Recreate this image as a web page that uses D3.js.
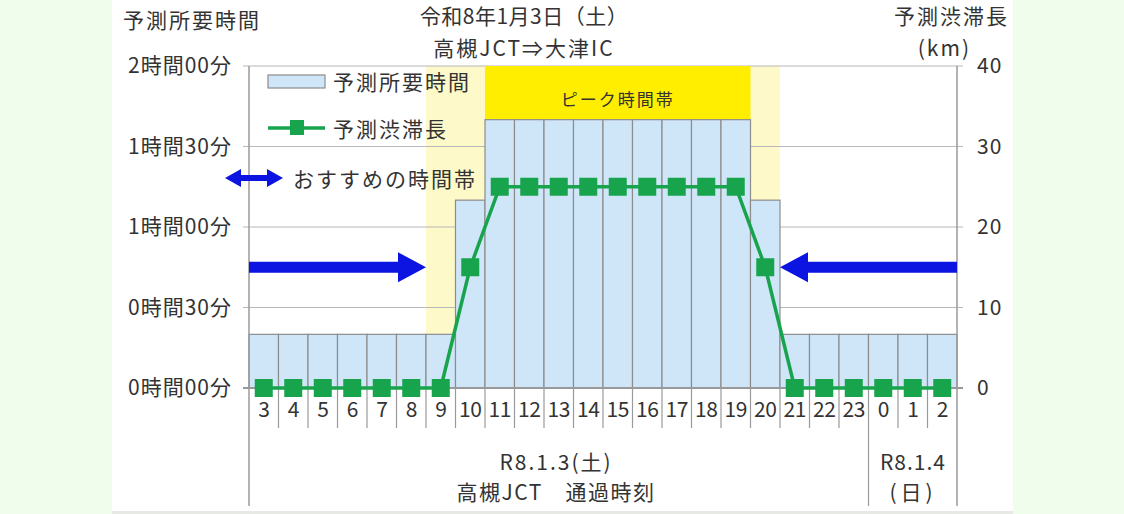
<!DOCTYPE html>
<html>
<head>
<meta charset="utf-8">
<script src="https://cdn.jsdelivr.net/npm/d3@7"></script>
<style>
  body { margin: 0; background: #f1fdec; }
  svg { display: block; }
  text { font-family: "Noto Sans CJK JP", sans-serif; fill: #333; }
</style>
</head>
<body>
<script>
// data
var hours = ["3","4","5","6","7","8","9","10","11","12","13","14","15","16","17","18","19","20","21","22","23","0","1","2"];
var travelMinutes = [20,20,20,20,20,20,20,70,100,100,100,100,100,100,100,100,100,70,20,20,20,20,20,20];
var jamKm = [0,0,0,0,0,0,0,15,25,25,25,25,25,25,25,25,25,15,0,0,0,0,0,0];
var leftTicks = [0,30,60,90,120];
var leftTickLabels = ["0時間00分","0時間30分","1時間00分","1時間30分","2時間00分"];
var rightTicks = [0,10,20,30,40];
var peakHours = ["11","19"];
var shadeHours = ["9","20"];
var recommendArrows = [["3","9"],["2","21"]]; // from, to (arrow points at "to")
var arrowKm = 15;

(function() {
    var W = 1124, H = 514;
    var plotL = 249, plotR = 957, plotT = 66, plotB = 388;
    var ink = "#333";
    var fontFam = "'Noto Sans CJK JP', sans-serif";

    var svg = d3.select("body").append("svg")
        .attr("width", W)
        .attr("height", H);

    // card
    svg.append("rect").attr("x", 0).attr("y", 0).attr("width", W).attr("height", H).attr("fill", "#f1fdec");
    svg.append("rect").attr("x", 112).attr("y", 0).attr("width", 901).attr("height", 511).attr("fill", "#fff");
    svg.append("rect").attr("x", 112).attr("y", 511).attr("width", 901).attr("height", 3).attr("fill", "#e6e9e4");

    var x = d3.scaleBand().domain(hours).range([plotL, plotR]).padding(0);
    var yL = d3.scaleLinear().domain([0, 120]).range([plotB, plotT]);
    var yR = d3.scaleLinear().domain([0, 40]).range([plotB, plotT]);

    // shaded (pale yellow) period
    svg.append("rect")
        .attr("x", x(shadeHours[0]))
        .attr("y", plotT)
        .attr("width", x(shadeHours[1]) + x.bandwidth() - x(shadeHours[0]))
        .attr("height", plotB - plotT)
        .attr("fill", "#fdf9c8");

    // gridlines
    svg.append("g")
        .selectAll("line")
        .data(leftTicks.slice(1))
        .enter()
        .append("line")
        .attr("x1", plotL - 6)
        .attr("x2", plotR + 6)
        .attr("y1", function(d) { return yL(d); })
        .attr("y2", function(d) { return yL(d); })
        .attr("stroke", "#b8b8b8")
        .attr("stroke-width", 1.2);

    // peak box (sits on top of the peak bars)
    var peakX = x(peakHours[0]);
    var peakW = x(peakHours[1]) + x.bandwidth() - peakX;
    var peakTop = d3.max(travelMinutes);
    svg.append("rect")
        .attr("x", peakX)
        .attr("y", plotT)
        .attr("width", peakW)
        .attr("height", yL(peakTop) - plotT)
        .attr("fill", "#ffee00");
    svg.append("text")
        .attr("x", peakX + peakW / 2)
        .attr("y", 106)
        .attr("text-anchor", "middle")
        .attr("font-size", 17)
        .attr("letter-spacing", 2)
        .text("ピーク時間帯");

    // bars
    svg.append("g")
        .selectAll("rect")
        .data(travelMinutes)
        .enter()
        .append("rect")
        .attr("x", function(d, i) { return x(hours[i]); })
        .attr("y", function(d) { return yL(d); })
        .attr("width", x.bandwidth())
        .attr("height", function(d) { return plotB - yL(d); })
        .attr("fill", "#cfe6f9")
        .attr("stroke", "#8c8c8c")
        .attr("stroke-width", 1.2);

    // axis lines
    var axisCol = "#9a9a9a";
    svg.append("line").attr("x1", plotL).attr("x2", plotL).attr("y1", plotT).attr("y2", 506).attr("stroke", axisCol).attr("stroke-width", 1.5);
    svg.append("line").attr("x1", plotR).attr("x2", plotR).attr("y1", plotT).attr("y2", 506).attr("stroke", axisCol).attr("stroke-width", 1.5);
    svg.append("line").attr("x1", plotL - 6).attr("x2", plotR + 6).attr("y1", plotB).attr("y2", plotB).attr("stroke", "#999").attr("stroke-width", 2);

    // category separators under the axis
    svg.append("g")
        .selectAll("line")
        .data(hours.slice(1))
        .enter()
        .append("line")
        .attr("x1", function(d) { return x(d); })
        .attr("x2", function(d) { return x(d); })
        .attr("y1", plotB)
        .attr("y2", function(d) { return d === "0" ? 506 : 428; })
        .attr("stroke", axisCol)
        .attr("stroke-width", 1.2);

    // left axis
    var axL = svg.append("g")
        .attr("transform", "translate(" + plotL + ",0)")
        .call(d3.axisLeft(yL).tickValues(leftTicks).tickSize(0).tickPadding(17)
            .tickFormat(function(d, i) { return leftTickLabels[i]; }));
    axL.select(".domain").remove();
    axL.selectAll("text").attr("font-size", 21).attr("letter-spacing", 1).attr("fill", ink).style("font-family", fontFam);

    // right axis
    var axR = svg.append("g")
        .attr("transform", "translate(" + plotR + ",0)")
        .call(d3.axisRight(yR).tickValues(rightTicks).tickSize(0).tickPadding(20));
    axR.select(".domain").remove();
    axR.selectAll("text").attr("font-size", 21).attr("letter-spacing", 1).attr("fill", ink).style("font-family", fontFam);

    // bottom axis labels
    var axB = svg.append("g")
        .attr("transform", "translate(0," + plotB + ")")
        .call(d3.axisBottom(x).tickSize(0).tickPadding(14));
    axB.select(".domain").remove();
    axB.selectAll("text").attr("font-size", 21).attr("fill", ink).style("font-family", fontFam).attr("letter-spacing", -0.5);

    // recommended period arrows
    var arrowCol = "#0b14e0";
    recommendArrows.forEach(function(a) {
        var from = a[0] === hours[0] ? plotL : plotR;
        var to = x(a[1]);
        var dir = to > from ? 1 : -1;
        var y = yR(arrowKm);
        var headLen = 28, headH = 15, body = 5.5;
        var neck = to - dir * headLen;
        svg.append("path")
            .attr("d", "M" + from + "," + (y - body) + "L" + neck + "," + (y - body) +
                "L" + neck + "," + (y - headH) + "L" + to + "," + y +
                "L" + neck + "," + (y + headH) + "L" + neck + "," + (y + body) +
                "L" + from + "," + (y + body) + "Z")
            .attr("fill", arrowCol);
    });

    // jam length line
    var line = d3.line()
        .x(function(d, i) { return x(hours[i]) + x.bandwidth() / 2; })
        .y(function(d) { return yR(d); });
    svg.append("path")
        .datum(jamKm)
        .attr("d", line)
        .attr("fill", "none")
        .attr("stroke", "#17a44c")
        .attr("stroke-width", 3.5);
    svg.append("g")
        .selectAll("rect")
        .data(jamKm)
        .enter()
        .append("rect")
        .attr("x", function(d, i) { return x(hours[i]) + x.bandwidth() / 2 - 9; })
        .attr("y", function(d) { return yR(d) - 9; })
        .attr("width", 18)
        .attr("height", 18)
        .attr("fill", "#17a44c");

    // legend
    var lg = svg.append("g");
    lg.append("rect").attr("x", 268).attr("y", 75).attr("width", 57).attr("height", 13)
        .attr("fill", "#cfe6f9").attr("stroke", "#8c8c8c").attr("stroke-width", 1.2);
    lg.append("text").attr("x", 333).attr("y", 90).attr("font-size", 21).attr("letter-spacing", 2).text("予測所要時間");
    lg.append("line").attr("x1", 268).attr("x2", 325).attr("y1", 128).attr("y2", 128)
        .attr("stroke", "#17a44c").attr("stroke-width", 3.5);
    lg.append("rect").attr("x", 290).attr("y", 120).attr("width", 14).attr("height", 15).attr("fill", "#17a44c");
    lg.append("text").attr("x", 333).attr("y", 137).attr("font-size", 21).attr("letter-spacing", 2).text("予測渋滞長");
    lg.append("path")
        .attr("d", "M225,178L241,169L241,175L267,175L267,169L283,178L267,187L267,181L241,181L241,187Z")
        .attr("fill", arrowCol);
    lg.append("text").attr("x", 293).attr("y", 187).attr("font-size", 21).attr("letter-spacing", 2).text("おすすめの時間帯");

    // titles
    function label(tx, ty, anchor, str, ls) {
        svg.append("text").attr("x", tx).attr("y", ty).attr("text-anchor", anchor)
            .attr("font-size", 21).attr("letter-spacing", ls).text(str);
    }
    label(123, 28, "start", "予測所要時間", 2);
    label(524, 24, "middle", "令和8年1月3日（土）", 0.5);
    label(524, 56, "middle", "高槻JCT⇒大津IC", 2);
    label(1009, 24, "end", "予測渋滞長", 2);
    label(971, 56, "end", "(km)", 2);

    // bottom date labels
    label(556, 470, "middle", "R8.1.3(土)", 2);
    label(556, 500, "middle", "高槻JCT　通過時刻", 1.5);
    label(913, 470, "middle", "R8.1.4", 1);
    label(913, 500, "middle", "(日)", 4);
})();
</script>
</body>
</html>
